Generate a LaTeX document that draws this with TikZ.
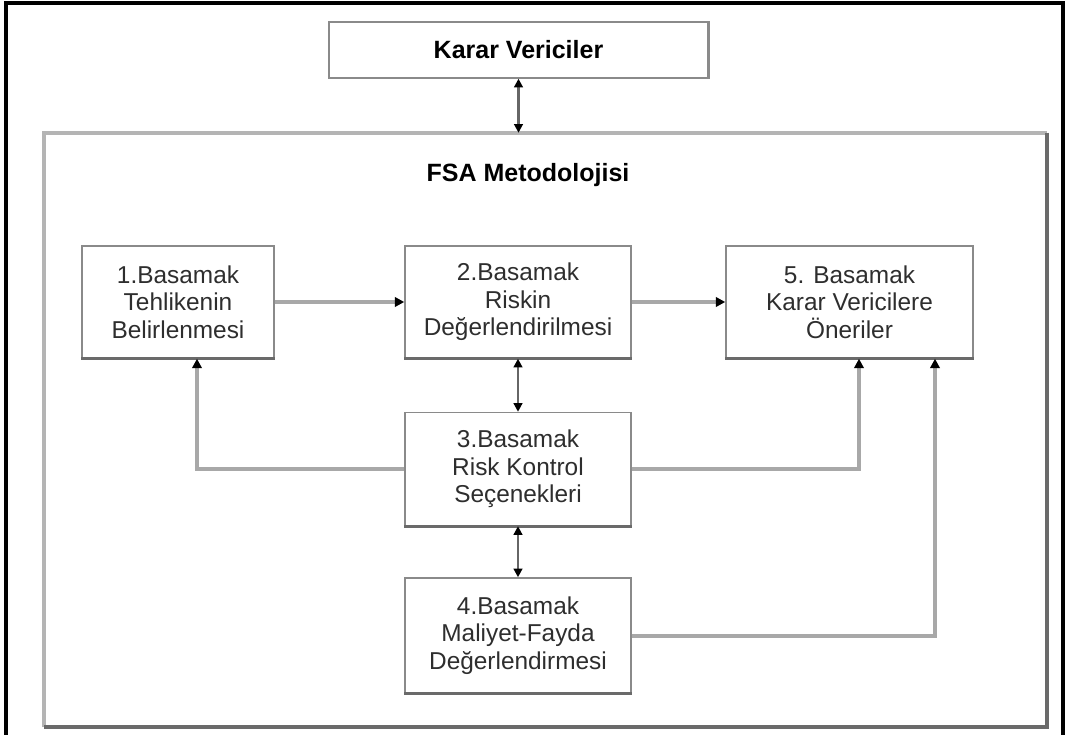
\documentclass[tikz,border=0pt]{standalone}
\usepackage{fontspec}
\setmainfont{Liberation Sans}
\usetikzlibrary{arrows.meta}
\definecolor{edgelight}{HTML}{B4B4B4}
\definecolor{edgedark}{HTML}{6A6A6A}
\definecolor{linkgray}{HTML}{A8A8A8}
\definecolor{pairgray}{HTML}{666666}
\definecolor{boxline}{HTML}{8A8A8A}
\definecolor{textgray}{HTML}{2E2E2E}

\begin{document}
\begin{tikzpicture}[x=0.75pt,y=-0.75pt,
  boxfont/.style={font=\fontsize{18.3pt}{20.6pt}\selectfont},
  stepbox/.style={boxfont, draw=boxline, line width=1.1pt, fill=white,
    align=center, text=textgray, inner sep=0pt},
  basedge/.style={draw=edgedark, line width=2.3pt},
  link/.style={draw=linkgray, line width=3pt, -{Triangle[length=7pt,width=7pt,color=black]}},
  pair/.style={draw=pairgray, line width=1.6pt,
    {Triangle[length=6.5pt,width=6.5pt,color=black]}-{Triangle[length=6.5pt,width=6.5pt,color=black]}}
]
\useasboundingbox (0,0) rectangle (1065,735);

% outer black frame (open at the bottom edge of the page)
\draw[line width=2.3pt] (6,740) -- (6,3) -- (1063,3) -- (1063,740);

% methodology frame with light top/left and dark bottom/right edges
\node[minimum width=752.25pt, minimum height=445.5pt, inner sep=0pt] (fsa) at (545.5,430) {};
\draw[edgelight, line width=3pt] (fsa.south west) -- (fsa.north west) -- (fsa.north east);
\draw[edgedark, line width=3.2pt] (fsa.north east) -- (fsa.south east) -- (fsa.south west);
\node[font=\bfseries\fontsize{18.75pt}{20pt}\selectfont] (title) at (528,175) {FSA Metodolojisi};

% decision makers box
\node[stepbox, text=black, font=\bfseries\fontsize{18.75pt}{20pt}\selectfont,
  minimum width=284.25pt, minimum height=42pt] (kv) at (518.5,50) {Karar Vericiler};
\draw[draw=boxline, line width=2pt] (kv.north east) -- (kv.south east);

% step boxes
\node[stepbox, minimum width=144pt, minimum height=84pt] (b1) at (178,302)
  {1.Basamak\\Tehlikenin\\Belirlenmesi};
\node[stepbox, minimum width=169.5pt, minimum height=84pt] (b2) at (518,302)
  {2.Basamak\\Riskin\\Değerlendirilmesi};
\node[stepbox, minimum width=185.25pt, minimum height=84pt] (b5) at (849.5,302)
  {5. Basamak\\Karar Vericilere\\Öneriler};
\node[stepbox, minimum width=169.5pt, minimum height=84.75pt] (b3) at (518,469)
  {3.Basamak\\Risk Kontrol\\Seçenekleri};
\node[stepbox, minimum width=169.5pt, minimum height=86.25pt] (b4) at (518,635.5)
  {4.Basamak\\Maliyet-Fayda\\Değerlendirmesi};

% darker lower edges of the step boxes
\foreach \b in {b1,b2,b5,b3,b4}
  \draw[basedge] (\b.south west) -- (\b.south east);

% connectors
\draw[pair] (kv.south) -- (fsa.north -| kv.south);
\draw[link] (b1.east) -- (b2.west |- b1.east);
\draw[link] (b2.east) -- (b5.west |- b2.east);
\draw[pair] (b2.south) -- (b3.north);
\draw[pair] (b3.south) -- (b4.north);

\coordinate (c1) at (197,469);
\coordinate (c5) at (859,469);
\coordinate (c4) at (935,635.5);
\draw[link] (b3.west) -- (c1) -- (b1.south -| c1);
\draw[link] (b3.east) -- (c5) -- (b5.south -| c5);
\draw[link] (b4.east) -- (c4) -- (b5.south -| c4);
\end{tikzpicture}
\end{document}
